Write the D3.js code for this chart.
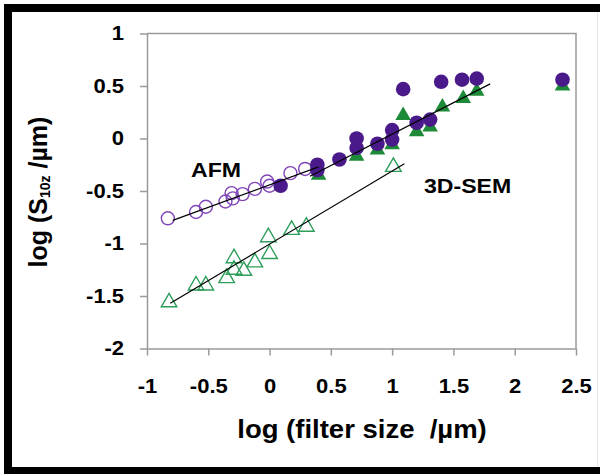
<!DOCTYPE html>
<html>
<head>
<meta charset="utf-8">
<script src="https://cdn.jsdelivr.net/npm/d3@7"></script>
<style>
  body { margin: 0; background: #fff; }
  svg text { font-family: "Liberation Sans", Arial, sans-serif; font-weight: bold; fill: #000; }
</style>
</head>
<body>
<div id="chart"></div>
<script>
// AFM (open circles)
var afmX = [-0.83, -0.6, -0.52, -0.36, -0.31, -0.3, -0.22, -0.12, -0.02, 0.0, 0.17, 0.29];
var afmY = [-0.76, -0.7, -0.65, -0.6, -0.52, -0.57, -0.53, -0.48, -0.41, -0.45, -0.33, -0.29];

// 3D-SEM filled circles
var semCircX = [0.09, 0.39, 0.39, 0.57, 0.71, 0.71, 0.88, 1.0, 1.0, 1.09, 1.2, 1.31, 1.4, 1.57, 1.69, 2.39];
var semCircY = [-0.45, -0.25, -0.3, -0.2, 0.0, -0.09, -0.05, 0.08, -0.01, 0.47, 0.15, 0.18, 0.54, 0.56, 0.57, 0.56];

// 3D-SEM filled triangles
var semTriX = [0.4, 0.71, 0.88, 1.0, 1.09, 1.2, 1.31, 1.41, 1.58, 1.69, 2.39];
var semTriY = [-0.35, -0.17, -0.11, -0.06, 0.22, 0.065, 0.11, 0.3, 0.38, 0.45, 0.5];

// 3D-SEM open triangles
var openTriX = [-0.82, -0.6, -0.52, -0.35, -0.29, -0.29, -0.21, -0.12, -0.01, 0.0, 0.18, 0.3, 1.01];
var openTriY = [-1.56, -1.4, -1.4, -1.33, -1.14, -1.25, -1.26, -1.18, -0.94, -1.1, -0.87, -0.84, -0.27];

// fitted lines, [x0, y0, x1, y1]
var fitAfm = [-0.79, -0.78, 0.4, -0.27];
var fitSem = [0.33, -0.36, 1.8, 0.52];
var fitOpen = [-0.81, -1.57, 1.1, -0.24];

var xTicks = [-1, -0.5, 0, 0.5, 1, 1.5, 2, 2.5];
var yTicks = [1, 0.5, 0, -0.5, -1, -1.5, -2];

var W = 600, H = 474;
var margin = {top: 33.5, right: 24, bottom: 125.5, left: 147},
    width = W - margin.left - margin.right,
    height = H - margin.top - margin.bottom;

var root = d3.select("#chart").append("svg")
    .attr("width", W)
    .attr("height", H);

root.append("rect").attr("width", W).attr("height", H).attr("fill", "#fff");

var svg = root.append("g")
    .attr("transform", "translate(" + margin.left + "," + margin.top + ")");

var x = d3.scaleLinear().domain([-1, 2.5]).range([0, width]);
var y = d3.scaleLinear().domain([-2, 1]).range([height, 0]);

var grey = "#9a9a9a";

// plot frame (top/right)
svg.append("path")
    .attr("d", "M0,0H" + width + "V" + height)
    .attr("fill", "none")
    .attr("stroke", grey)
    .attr("stroke-width", 1.5);

//********** AXES ************
var yAxis = svg.append("g")
    .call(d3.axisLeft(y).tickValues(yTicks).tickSize(7).tickSizeOuter(0)
        .tickFormat(function(d) { return String(d); }));
yAxis.select(".domain").attr("stroke", grey).attr("stroke-width", 1.5);
yAxis.selectAll(".tick line").attr("stroke", grey).attr("stroke-width", 1.5);
yAxis.selectAll(".tick text")
    .attr("x", null)
    .attr("font-size", 20)
    .attr("transform", "translate(-23,0) scale(1.1,1)");

var xAxis = svg.append("g")
    .attr("transform", "translate(0," + height + ")")
    .call(d3.axisBottom(x).tickValues(xTicks).tickSize(7).tickSizeOuter(0).tickPadding(23)
        .tickFormat(function(d) { return String(d); }));
xAxis.select(".domain").attr("stroke", grey).attr("stroke-width", 1.5);
xAxis.selectAll(".tick line").attr("stroke", grey).attr("stroke-width", 1.5);
xAxis.selectAll(".tick text")
    .attr("font-size", 20)
    .attr("transform", "scale(1.1,1)");

// markers
var tri = function(s) { return d3.symbol().type(d3.symbolTriangle).size(s)(); };

svg.append("g").selectAll("path")
    .data(d3.range(openTriX.length))
    .enter().append("path")
        .attr("d", tri(105))
        .attr("transform", function(i) { return "translate(" + x(openTriX[i]) + "," + y(openTriY[i]) + ")"; })
        .attr("fill", "none")
        .attr("stroke", "#2f9e5c")
        .attr("stroke-width", 1.4);

svg.append("g").selectAll("circle")
    .data(d3.range(afmX.length))
    .enter().append("circle")
        .attr("cx", function(i) { return x(afmX[i]); })
        .attr("cy", function(i) { return y(afmY[i]); })
        .attr("r", 6.5)
        .attr("fill", "none")
        .attr("stroke", "#8046b8")
        .attr("stroke-width", 1.4);

svg.append("g").selectAll("path")
    .data(d3.range(semTriX.length))
    .enter().append("path")
        .attr("d", tri(105))
        .attr("transform", function(i) { return "translate(" + x(semTriX[i]) + "," + y(semTriY[i]) + ")"; })
        .attr("fill", "#1c8a36");

svg.append("g").selectAll("circle")
    .data(d3.range(semCircX.length))
    .enter().append("circle")
        .attr("cx", function(i) { return x(semCircX[i]); })
        .attr("cy", function(i) { return y(semCircY[i]); })
        .attr("r", 7.3)
        .attr("fill", "#4a1a8a");

// fit lines
[fitAfm, fitSem, fitOpen].forEach(function(f) {
    svg.append("line")
        .attr("x1", x(f[0])).attr("y1", y(f[1]))
        .attr("x2", x(f[2])).attr("y2", y(f[3]))
        .attr("stroke", "#000")
        .attr("stroke-width", 1.2);
});

// labels
svg.append("text")
    .attr("transform", "translate(" + (191 - margin.left) + "," + (177 - margin.top) + ") scale(1.1,1)")
    .attr("font-size", 21)
    .text("AFM");

svg.append("text")
    .attr("transform", "translate(" + (424 - margin.left) + "," + (193 - margin.top) + ") scale(1.1,1)")
    .attr("font-size", 21)
    .text("3D-SEM");

// axis titles
root.append("text")
    .attr("transform", "translate(362,438) scale(1.1,1)")
    .attr("text-anchor", "middle")
    .attr("font-size", 25)
    .style("white-space", "pre")
    .text("log (filter size  /µm)");

var yt = root.append("text")
    .attr("transform", "translate(47,192) rotate(-90) scale(1.0,1)")
    .attr("text-anchor", "middle")
    .attr("font-size", 25);
yt.append("tspan").text("log (S");
yt.append("tspan").attr("font-size", 14).attr("dy", 3).text("10z");
yt.append("tspan").attr("dy", -3).text(" /µm)");

// outer frame
root.append("rect")
    .attr("x", 8).attr("y", 8)
    .attr("width", 700).attr("height", 463)
    .attr("fill", "none")
    .attr("stroke", "#000")
    .attr("stroke-width", 8);
root.append("line")
    .attr("x1", 597.5).attr("x2", 597.5).attr("y1", 12).attr("y2", 467)
    .attr("stroke", "#e6e6e6");
</script>
</body>
</html>
